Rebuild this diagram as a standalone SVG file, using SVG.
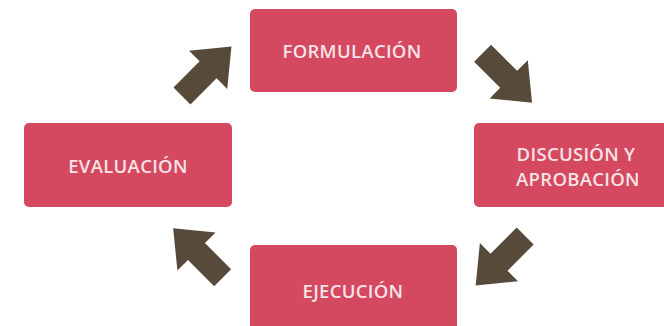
<svg xmlns="http://www.w3.org/2000/svg" width="664" height="326" viewBox="0 0 664 326">
<defs>
<style>
.box{fill:#d4495f;}
.lbl{font-family:"Open Sans","Liberation Sans",sans-serif;font-weight:600;font-size:18.5px;fill:#f7e3e7;text-anchor:middle;letter-spacing:0.3px;}
.arr{fill:#574a3b;}
</style>
<polygon id="arrowShape" points="-35,-12 2,-12 2,-27 35,0 2,27 2,12 -35,12"/>
</defs>
<rect width="664" height="326" fill="#ffffff"/>
<g id="formulacion">
<rect class="box" x="250" y="9" width="207" height="83" rx="5"/>
<text class="lbl" x="352" y="57.5">FORMULACIÓN</text>
</g>
<g id="discusion">
<rect class="box" x="474" y="123" width="196" height="84" rx="5"/>
<text class="lbl" x="576" y="161">DISCUSIÓN Y</text>
<text class="lbl" x="578" y="186">APROBACIÓN</text>
</g>
<g id="ejecucion">
<rect class="box" x="250" y="245" width="207" height="90" rx="5"/>
<text class="lbl" x="353" y="297.5">EJECUCIÓN</text>
</g>
<g id="evaluacion">
<rect class="box" x="24" y="123" width="208" height="84" rx="5"/>
<text class="lbl" x="128" y="173">EVALUACIÓN</text>
</g>
<g id="connectors">
<use href="#arrowShape" class="arr" transform="translate(206.7,71.2) rotate(-45)"/>
<use href="#arrowShape" class="arr" transform="translate(507.3,77.9) rotate(45)"/>
<use href="#arrowShape" class="arr" transform="translate(500.4,260.8) rotate(135)"/>
<use href="#arrowShape" class="arr" transform="translate(197.9,252.9) rotate(-135)"/>
</g>
</svg>
